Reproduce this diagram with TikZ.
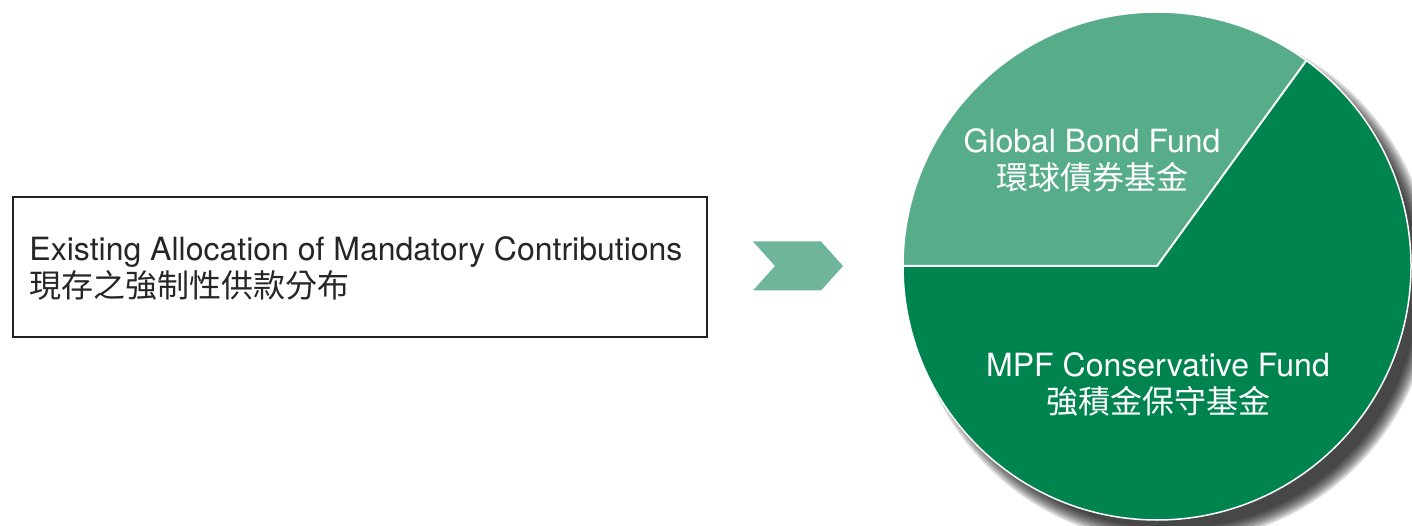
\documentclass[tikz,border=0pt]{standalone}
\usepackage{fontspec}
\setmainfont{TeX Gyre Heros}
\newfontfamily\cjk{Noto Sans CJK TC}
\usetikzlibrary{positioning}
\definecolor{bondgreen}{HTML}{57AC8A}
\definecolor{consgreen}{HTML}{00844F}
\definecolor{chevgreen}{HTML}{6EB59A}
\definecolor{boxline}{HTML}{222222}
\tikzset{
  bigtext/.style={font=\fontsize{32}{37}\selectfont, inner sep=0pt},
  pielabel/.style={bigtext, text=white, align=center},
}

\begin{document}
\begin{tikzpicture}[x=1pt,y=1pt]
    \useasboundingbox (0,0) rectangle (1412,525);
    \node[draw=boxline, line width=1.5pt, minimum width=694pt, minimum height=140pt, inner sep=0pt] (alloc) at (360,258) {};
    \node[bigtext, anchor=west, align=left, text=black!85] (alloctext) at ([xshift=17pt,yshift=-1pt]alloc.west) {Existing Allocation of Mandatory Contributions\\\cjk 現存之強制性供款分布};
    \coordinate (chev) at (753,259);
    \fill[chevgreen] (chev) ++(0,24.5) -- ++(68,0) -- ++(22,-24.5) -- ++(-22,-24.5) -- ++(-68,0) -- ++(22,24.5) -- cycle;
    \coordinate (pc) at (1157,259);
    \foreach \k in {1,...,8}
        \fill[black, opacity=0.15] ([shift={(15,-16)}]pc) circle (245+2*\k);
    \fill[white] (pc) circle (254);
    \fill[bondgreen] (pc) -- ++(180:254) arc (180:54:254) -- cycle;
    \fill[consgreen] (pc) -- ++(54:254) arc (54:-180:254) -- cycle;
    \draw[white, line width=2pt] (pc) ++(180:254) -- (pc) -- ++(54:254);
    \draw[white, line width=1.5pt] (pc) circle (254);
    \node[pielabel] (bond) at (1092,365) {Global Bond Fund\\\cjk 環球債券基金};
    \node[pielabel] (cons) at (1158,141) {MPF Conservative Fund\\\cjk 強積金保守基金};
\end{tikzpicture}
\end{document}
